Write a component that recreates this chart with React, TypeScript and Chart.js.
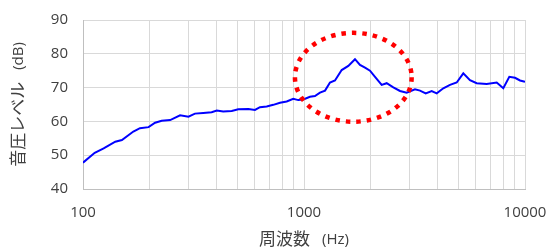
import React, { useEffect, useRef } from "react";
import { Chart, registerables } from "chart.js";

Chart.register(...registerables);

// Frequency (Hz) of each measured point
const freqs = [
  100, 113, 124, 140, 150, 169, 181, 198, 212, 227, 248, 275, 300, 321, 350, 382,
  403, 431, 471, 504, 560, 600, 632, 678, 726, 779, 835, 894, 942, 993, 1064,
  1121, 1181, 1245, 1311, 1381, 1481, 1587, 1701, 1792, 1888, 1989, 2096, 2246,
  2367, 2536, 2719, 2915, 3178, 3349, 3554, 3783, 3986, 4270, 4577, 4909, 5258,
  5637, 6044, 6708, 7446, 7976, 8492, 9012, 9493, 10000,
];

// Sound pressure level (dB)
const levels = [
  47.8, 50.7, 52.0, 54.0, 54.5, 57.0, 58.0, 58.3, 59.6, 60.2, 60.4, 61.8, 61.4, 62.3, 62.5, 62.7,
  63.2, 62.9, 63.1, 63.6, 63.7, 63.4, 64.2, 64.4, 64.9, 65.5, 65.9, 66.7, 66.3, 66.5, 67.3,
  67.5, 68.5, 69.1, 71.5, 72.1, 75.2, 76.4, 78.4, 76.7, 75.9, 75.0, 73.2, 70.8,
  71.3, 70.1, 69.0, 68.5, 69.5, 69.1, 68.3, 69.0, 68.3, 69.8, 70.8, 71.5, 74.2,
  72.2, 71.3, 71.1, 71.5, 69.8, 73.2, 72.9, 72.1, 71.7,
];

// Grid lines on the frequency axis and the ones that carry a label
const xGridValues = [
  100, 200, 300, 400, 500, 600, 700, 800, 900,
  1000, 2000, 3000, 4000, 5000, 6000, 7000, 8000, 9000, 10000,
];
const xLabelValues = [100, 1000, 10000];

const yMin = 40;
const yMax = 90;
const yStep = 10;

const xTitleMain = "周波数";
const xTitleUnit = "(Hz)";
const yTitleMain = "音圧レベル";
const yTitleUnit = "(dB)";

// Highlighted region (dotted ellipse), in data units
const highlightFreqMin = 910;
const highlightFreqMax = 3070;
const highlightDbMin = 59.9;
const highlightDbMax = 86.2;

const textColor = "#404040";
const jpFont = '"Noto Sans CJK JP", sans-serif';
const numFont = '"Open Sans", "Noto Sans", sans-serif';

const ellipsePlugin = {
  id: "highlightEllipse",
  afterDatasetsDraw(chart: any) {
    const { ctx, scales } = chart;
    const x = scales.x;
    const y = scales.y;
    const l = x.getPixelForValue(highlightFreqMin);
    const r = x.getPixelForValue(highlightFreqMax);
    const t = y.getPixelForValue(highlightDbMax);
    const b = y.getPixelForValue(highlightDbMin);
    ctx.save();
    ctx.beginPath();
    ctx.ellipse((l + r) / 2, (t + b) / 2, (r - l) / 2, (b - t) / 2, 0, 0, Math.PI * 2);
    ctx.strokeStyle = "#ff0000";
    ctx.lineWidth = 4.5;
    ctx.lineCap = "butt";
    ctx.setLineDash([4.5, 6]);
    ctx.stroke();
    ctx.restore();
  },
};

const titlePlugin = {
  id: "axisTitles",
  afterDraw(chart: any) {
    const { ctx, chartArea } = chart;
    ctx.save();
    ctx.fillStyle = textColor;
    ctx.textBaseline = "middle";
    ctx.textAlign = "left";
    const mainFont = `17px ${jpFont}`;
    const unitFont = `15px ${numFont}`;
    const gap = 12;

    // x title
    ctx.font = mainFont;
    const wm = ctx.measureText(xTitleMain).width;
    ctx.font = unitFont;
    const wu = ctx.measureText(xTitleUnit).width;
    const total = wm + gap + wu;
    const cx = (chartArea.left + chartArea.right) / 2;
    const ty = 239;
    let sx = cx - total / 2;
    ctx.font = mainFont;
    ctx.fillText(xTitleMain, sx, ty);
    ctx.font = unitFont;
    ctx.fillText(xTitleUnit, sx + wm + gap, ty + 1);

    // y title
    ctx.font = mainFont;
    const ym = ctx.measureText(yTitleMain).width;
    ctx.font = unitFont;
    const yu = ctx.measureText(yTitleUnit).width;
    const ytot = ym + gap + yu;
    const cy = (chartArea.top + chartArea.bottom) / 2;
    ctx.translate(18, cy);
    ctx.rotate(-Math.PI / 2);
    sx = -ytot / 2;
    ctx.font = mainFont;
    ctx.fillText(yTitleMain, sx, 0);
    ctx.font = unitFont;
    ctx.fillText(yTitleUnit, sx + ym + gap, 1);
    ctx.restore();
  },
};

export default function App() {
  const ref = useRef<HTMLCanvasElement | null>(null);

  useEffect(() => {
    document.body.style.margin = "0";
    if (!ref.current) return;
    const chart = new Chart(ref.current, {
      type: "line",
      data: {
        datasets: [
          {
            data: freqs.map((f, i) => ({ x: f, y: levels[i] })),
            borderColor: "#0000ff",
            borderWidth: 2,
            pointRadius: 0,
            tension: 0,
            fill: false,
          },
        ],
      },
      options: {
        animation: false,
        responsive: false,
        layout: { padding: { top: 20, right: 23, left: 0, bottom: 0 } },
        plugins: {
          legend: { display: false },
          tooltip: { enabled: false },
        },
        scales: {
          x: {
            type: "logarithmic",
            min: 100,
            max: 10000,
            afterBuildTicks: (s: any) => {
              s.ticks = xGridValues.map((v) => ({ value: v }));
            },
            afterFit: (s: any) => {
              s.height = 59;
              s.paddingLeft = 0;
              s.paddingRight = 0;
            },
            ticks: {
              autoSkip: false,
              maxRotation: 0,
              padding: 15,
              color: textColor,
              font: { family: numFont, size: 15 },
              callback: (v: any) => (xLabelValues.includes(Number(v)) ? String(v) : ""),
            },
            grid: { color: "#d9d9d9", drawTicks: false, lineWidth: 1 },
            border: { color: "#bfbfbf" },
          },
          y: {
            min: yMin,
            max: yMax,
            afterFit: (s: any) => {
              s.width = 83;
              s.paddingTop = 0;
              s.paddingBottom = 0;
            },
            ticks: {
              stepSize: yStep,
              padding: 15,
              color: textColor,
              font: { family: numFont, size: 15 },
            },
            grid: { color: "#d9d9d9", drawTicks: false, lineWidth: 1 },
            border: { color: "#bfbfbf" },
          },
        },
      },
      plugins: [ellipsePlugin, titlePlugin],
    });
    return () => chart.destroy();
  }, []);

  return (
    <div style={{ position: "fixed", left: 0, top: 0, width: 548, height: 248, background: "#fff" }}>
      <canvas ref={ref} width={548} height={248} />
    </div>
  );
}
